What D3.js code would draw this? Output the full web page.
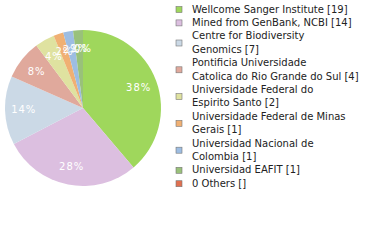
<!DOCTYPE html>
<html>
<head>
<meta charset="utf-8">
<script src="https://cdn.jsdelivr.net/npm/d3@7"></script>
<style>
  body { margin: 0; background: #fff; }
  svg { display: block; }
  text { font-family: "DejaVu Sans", sans-serif; }
</style>
</head>
<body>
<svg id="svg" width="380" height="240"></svg>
<script>
// data
var labels = [
  ["Wellcome Sanger Institute [19]"],
  ["Mined from GenBank, NCBI [14]"],
  ["Centre for Biodiversity", "Genomics [7]"],
  ["Pontificia Universidade", "Catolica do Rio Grande do Sul [4]"],
  ["Universidade Federal do", "Espirito Santo [2]"],
  ["Universidade Federal de Minas", "Gerais [1]"],
  ["Universidad Nacional de", "Colombia [1]"],
  ["Universidad EAFIT [1]"],
  ["0 Others []"]
];
var counts = [19, 14, 7, 4, 2, 1, 1, 1, 0];
var colors = ["#9fd75c", "#dcbfe0", "#cbd9e6", "#e0a99c", "#dfe2a0",
              "#f0b073", "#9dbde2", "#99c17a", "#e07050"];

var svg = d3.select("#svg");
var total = d3.sum(counts);

var cx = 83, cy = 108, r = 78;

var pie = d3.pie().sort(null).value(function(d) { return d; });
var arc = d3.arc().innerRadius(0).outerRadius(r);
var labelArc = d3.arc().innerRadius(r * 0.76).outerRadius(r * 0.76);

var g = svg.append("g").attr("transform", "translate(" + cx + "," + cy + ")");
var arcs = pie(counts);

g.selectAll("path").data(arcs).enter().append("path")
  .attr("d", arc)
  .attr("fill", function(d, i) { return colors[i]; });

g.selectAll("text").data(arcs).enter().append("text")
  .attr("transform", function(d) { return "translate(" + labelArc.centroid(d) + ")"; })
  .attr("text-anchor", "middle")
  .attr("dy", "0.35em")
  .attr("font-size", "10px")
  .attr("letter-spacing", "1px")
  .attr("fill", "#fff")
  .text(function(d) { return Math.floor(d.value / total * 100) + "%"; });

// legend
var lineH = 13.4, top0 = 9;
var leg = svg.append("g");
var line = 0;
labels.forEach(function(lines, i) {
  var first = top0 + line * lineH;
  var mid = first + (lines.length - 1) * lineH / 2;
  leg.append("rect")
    .attr("x", 176).attr("y", mid - 2.5)
    .attr("width", 6).attr("height", 6)
    .attr("fill", colors[i])
    .attr("stroke", "#777").attr("stroke-width", 0.6);
  lines.forEach(function(t, j) {
    leg.append("text")
      .attr("x", 192).attr("y", first + j * lineH)
      .attr("dy", "0.35em")
      .attr("font-size", "10px")
      .attr("fill", "#222")
      .text(t);
  });
  line += lines.length;
});
</script>
</body>
</html>
